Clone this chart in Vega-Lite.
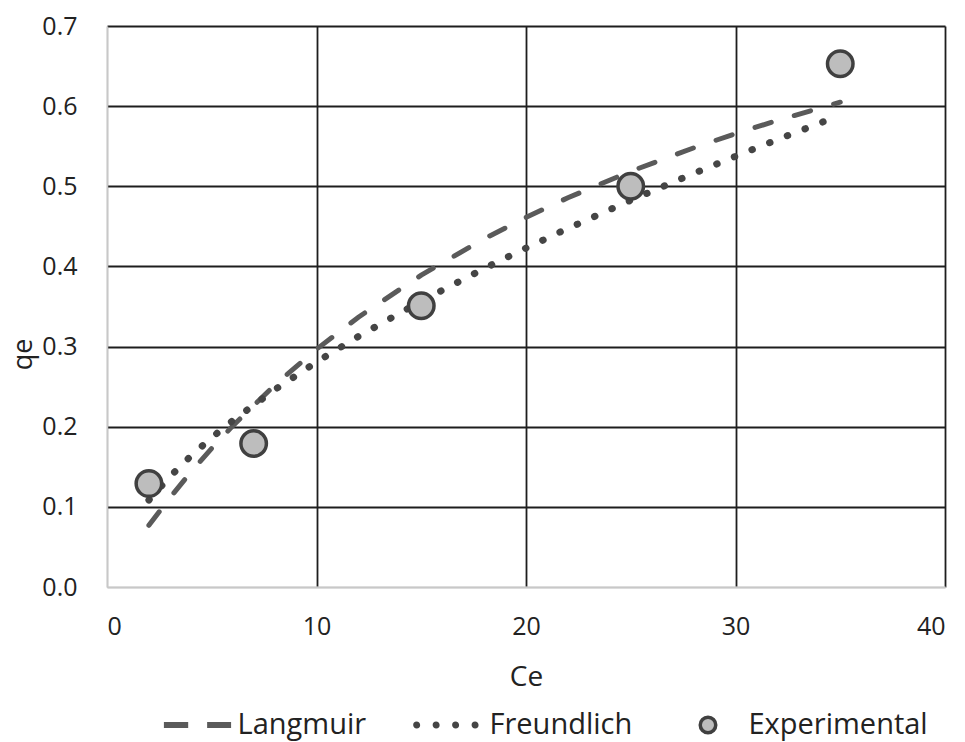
{
  "$schema": "https://vega.github.io/schema/vega-lite/v6.json",
  "autosize": "none",
  "width": 838,
  "height": 561,
  "padding": {"left": 107, "top": 26, "right": 20, "bottom": 155},
  "background": "white",
  "config": {
    "view": {"stroke": null},
    "font": "Open Sans",
    "axis": {"labelFont": "Open Sans", "titleFont": "Open Sans", "labelColor": "#222", "titleColor": "#222", "titleFontWeight": "normal"},
    "legend": {
      "orient": "none", "legendX": 55, "legendY": 664, "direction": "horizontal",
      "labelFont": "Open Sans", "labelFontSize": 29, "labelColor": "#222",
      "labelLimit": 400, "labelOffset": 5.5, "columnPadding": 40,
      "symbolSize": 4356, "symbolStrokeWidth": 3.5, "symbolOpacity": 1
    }
  },
  "data": {
    "values": [
      {"series": "Langmuir", "Ce": 2, "qe": 0.077},
      {"series": "Langmuir", "Ce": 3, "qe": 0.1113},
      {"series": "Langmuir", "Ce": 4, "qe": 0.1433},
      {"series": "Langmuir", "Ce": 5, "qe": 0.1731},
      {"series": "Langmuir", "Ce": 6, "qe": 0.201},
      {"series": "Langmuir", "Ce": 8, "qe": 0.2518},
      {"series": "Langmuir", "Ce": 10, "qe": 0.2966},
      {"series": "Langmuir", "Ce": 12, "qe": 0.3367},
      {"series": "Langmuir", "Ce": 15, "qe": 0.3892},
      {"series": "Langmuir", "Ce": 18, "qe": 0.4344},
      {"series": "Langmuir", "Ce": 20, "qe": 0.4611},
      {"series": "Langmuir", "Ce": 22, "qe": 0.4857},
      {"series": "Langmuir", "Ce": 25, "qe": 0.5187},
      {"series": "Langmuir", "Ce": 28, "qe": 0.5479},
      {"series": "Langmuir", "Ce": 30, "qe": 0.5657},
      {"series": "Langmuir", "Ce": 32, "qe": 0.5822},
      {"series": "Langmuir", "Ce": 35, "qe": 0.6049},
      {"series": "Freundlich", "Ce": 2, "qe": 0.1085},
      {"series": "Freundlich", "Ce": 3, "qe": 0.1378},
      {"series": "Freundlich", "Ce": 4, "qe": 0.1634},
      {"series": "Freundlich", "Ce": 5, "qe": 0.1864},
      {"series": "Freundlich", "Ce": 6, "qe": 0.2076},
      {"series": "Freundlich", "Ce": 8, "qe": 0.2461},
      {"series": "Freundlich", "Ce": 10, "qe": 0.2807},
      {"series": "Freundlich", "Ce": 12, "qe": 0.3127},
      {"series": "Freundlich", "Ce": 15, "qe": 0.3568},
      {"series": "Freundlich", "Ce": 18, "qe": 0.3974},
      {"series": "Freundlich", "Ce": 20, "qe": 0.4229},
      {"series": "Freundlich", "Ce": 22, "qe": 0.4474},
      {"series": "Freundlich", "Ce": 25, "qe": 0.4826},
      {"series": "Freundlich", "Ce": 28, "qe": 0.516},
      {"series": "Freundlich", "Ce": 30, "qe": 0.5374},
      {"series": "Freundlich", "Ce": 32, "qe": 0.5583},
      {"series": "Freundlich", "Ce": 35, "qe": 0.5887},
      {"series": "Experimental", "Ce": 2, "qe": 0.129},
      {"series": "Experimental", "Ce": 7, "qe": 0.179},
      {"series": "Experimental", "Ce": 15, "qe": 0.351},
      {"series": "Experimental", "Ce": 25, "qe": 0.5},
      {"series": "Experimental", "Ce": 35, "qe": 0.653}
    ]
  },
  "encoding": {
    "x": {
      "field": "Ce", "type": "quantitative",
      "scale": {"domain": [0, 40], "nice": false, "zero": false},
      "axis": {
        "title": "Ce", "values": [0, 10, 20, 30, 40], "format": "d",
        "labelFontSize": 25, "titleFontSize": 28, "labelPadding": 27, "titlePadding": 24,
        "ticks": false, "domainColor": "#c8c8c8", "domainWidth": 1.5,
        "gridColor": {"condition": {"test": "datum.value === 0", "value": "#c8c8c8"}, "value": "#1e1e1e"},
        "gridWidth": 1.8
      }
    },
    "y": {
      "field": "qe", "type": "quantitative",
      "scale": {"domain": [0, 0.7], "nice": false},
      "axis": {
        "title": "qe", "values": [0, 0.1, 0.2, 0.3, 0.4, 0.5, 0.6, 0.7], "format": ".1f",
        "labelFontSize": 25, "titleFontSize": 27, "labelPadding": 30,
        "ticks": false, "domainColor": "#c8c8c8", "domainWidth": 1.5,
        "gridColor": {"condition": {"test": "datum.value === 0", "value": "#c8c8c8"}, "value": "#1e1e1e"},
        "gridWidth": 1.8,
        "titleAngle": 270, "titleAlign": "center", "titleBaseline": "middle",
        "titleX": -84, "titleY": 328
      }
    }
  },
  "layer": [
    {
      "transform": [{"filter": "datum.series === 'Langmuir'"}],
      "mark": {"type": "line", "color": "#5a5a5a", "strokeWidth": 5, "strokeCap": "round", "strokeDash": [17, 24]}
    },
    {
      "transform": [{"filter": "datum.series === 'Freundlich'"}],
      "mark": {"type": "line", "color": "#454545", "strokeWidth": 7, "strokeCap": "round", "strokeDash": [0.5, 18.5]}
    },
    {
      "transform": [{"filter": "datum.series === 'Experimental'"}],
      "mark": {"type": "point", "filled": true, "size": 11772, "opacity": 1, "strokeWidth": 3.5},
      "encoding": {
        "fill": {
          "field": "series", "type": "nominal",
          "scale": {"domain": ["Langmuir", "Freundlich", "Experimental"], "range": ["#5a5a5a", "#454545", "#bdbdbd"]},
          "legend": {"title": null}
        },
        "stroke": {
          "field": "series", "type": "nominal",
          "scale": {"domain": ["Langmuir", "Freundlich", "Experimental"], "range": ["#5a5a5a", "#454545", "#404040"]},
          "legend": {"title": null}
        },
        "shape": {
          "field": "series", "type": "nominal",
          "scale": {
            "domain": ["Langmuir", "Freundlich", "Experimental"],
            "range": [
              "M-0.95,-0.038H-0.32V0.038H-0.95Z M0.36,-0.038H0.98V0.038H0.36Z",
              "M-1.033,0A0.053,0.053,0,1,0,-0.927,0A0.053,0.053,0,1,0,-1.033,0Z M-0.443,0A0.053,0.053,0,1,0,-0.337,0A0.053,0.053,0,1,0,-0.443,0Z M0.147,0A0.053,0.053,0,1,0,0.253,0A0.053,0.053,0,1,0,0.147,0Z M0.737,0A0.053,0.053,0,1,0,0.843,0A0.053,0.053,0,1,0,0.737,0Z",
              "M-0.235,0A0.235,0.235,0,1,0,0.235,0A0.235,0.235,0,1,0,-0.235,0Z"
            ]
          },
          "legend": {"title": null}
        }
      }
    }
  ]
}
